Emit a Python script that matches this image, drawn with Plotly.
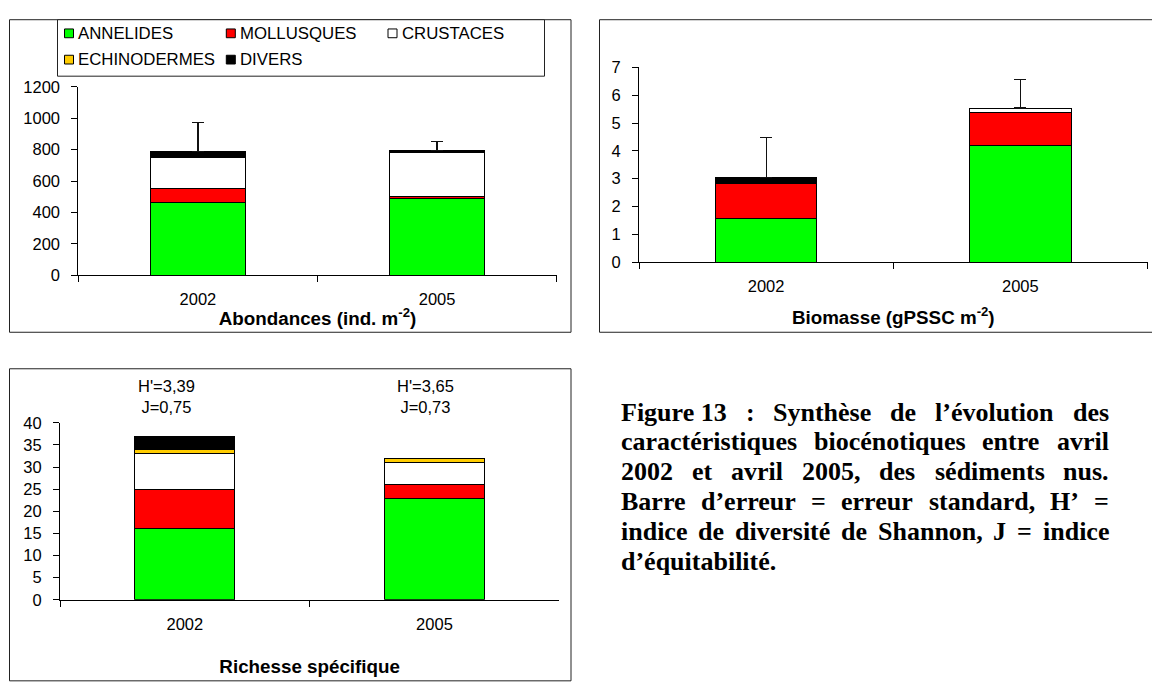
import plotly.graph_objects as go

W, H = 1152, 684

# ---------------- data ----------------
categories = ["2002", "2005"]
groups = ["ANNELIDES", "MOLLUSQUES", "CRUSTACES", "ECHINODERMES", "DIVERS"]
group_colors = ["#00FF00", "#FF0000", "#FFFFFF", "#FFCC00", "#000000"]

# Abondances (ind. m-2)
abond_annelides = [462, 490]
abond_mollusques = [91, 10]
abond_crustaces = [194, 283]
abond_echinodermes = [2, 2]
abond_divers = [41, 7]
abond_se = [181, 62]

# Biomasse (gPSSC m-2)
biom_annelides = [1.56, 4.21]
biom_mollusques = [1.27, 1.17]
biom_crustaces = [0.05, 0.16]
biom_echinodermes = [0.01, 0.0]
biom_divers = [0.14, 0.0]
biom_se = [1.46, 1.02]

# Richesse spécifique
rich_annelides = [16, 23]
rich_mollusques = [9, 3]
rich_crustaces = [8, 5]
rich_echinodermes = [1, 1]
rich_divers = [3, 0]

diversity_h = ["3,39", "3,65"]
equitability_j = ["0,75", "0,73"]

titles = ["Abondances (ind. m<sup>-2</sup>)", "Biomasse (gPSSC m<sup>-2</sup>)", "Richesse spécifique"]

caption_lines = [
    "Figure\u00a013 : Synthèse de l’évolution des",
    "caractéristiques biocénotiques entre avril",
    "2002 et avril 2005, des sédiments nus.",
    "Barre d’erreur = erreur standard, H’ =",
    "indice de diversité de Shannon, J = indice",
    "d’équitabilité.",
]

# ---------------- helpers ----------------
def px(x):
    return x / W


def py(y):
    return 1 - y / H


SANS = "Liberation Sans"
SERIF = "Liberation Serif"
FS = 16.5

fig = go.Figure()

charts = [
    ("x", "y", [abond_annelides, abond_mollusques, abond_crustaces, abond_echinodermes, abond_divers], abond_se),
    ("x2", "y2", [biom_annelides, biom_mollusques, biom_crustaces, biom_echinodermes, biom_divers], biom_se),
    ("x3", "y3", [rich_annelides, rich_mollusques, rich_crustaces, rich_echinodermes, rich_divers], None),
]

for xa, ya, series, se in charts:
    for g, vals in enumerate(series):
        kw = {}
        if se is not None and g == len(series) - 1:
            kw["error_y"] = dict(type="data", symmetric=False, array=se, arrayminus=[0] * len(se),
                                 color="#111111", thickness=1.2, width=6)
        fig.add_trace(go.Bar(
            x=categories, y=vals, name=groups[g], xaxis=xa, yaxis=ya,
            marker=dict(color=group_colors[g], line=dict(color="#000000", width=1)),
            showlegend=False, **kw))

tickfont = dict(family=SANS, size=FS, color="#000000")
titlefont = dict(family=SANS, size=18.8, color="#000000", weight="bold")


def xaxis(domain, anchor, title, standoff):
    return dict(domain=domain, anchor=anchor, type="category", range=[-0.5, len(categories) - 0.5],
                showline=True, linecolor="#000000",
                linewidth=1, ticks="outside", tickson="boundaries", ticklen=6, tickcolor="#000000",
                tickwidth=1, tickfont=tickfont, showgrid=False, zeroline=False, fixedrange=True,
                ticklabelstandoff=9, tickangle=0,
                title=dict(text=title, font=titlefont, standoff=standoff))


def yaxis(domain, anchor, rng, dtick):
    return dict(domain=domain, anchor=anchor, range=rng, dtick=dtick, showline=True, linecolor="#000000",
                linewidth=1, ticks="outside", ticklen=6, tickcolor="#000000", tickwidth=1,
                tickfont=tickfont, showgrid=False, zeroline=False, fixedrange=True, ticklabelstandoff=8)


fig.update_layout(
    width=W, height=H, margin=dict(l=0, r=0, t=0, b=0, pad=0),
    paper_bgcolor="#FFFFFF", plot_bgcolor="rgba(0,0,0,0)",
    barmode="stack", bargap=0.6, showlegend=False,
    font=dict(family=SANS, size=FS, color="#000000"),
    xaxis=xaxis([px(78.3), px(556.7)], "y", titles[0], 4.5),
    yaxis=yaxis([py(273.3), py(80)], "x", [0, 1200], 200),
    xaxis2=xaxis([px(639), px(1147.5)], "y2", titles[1], 16.5),
    yaxis2=yaxis([py(260), py(60)], "x2", [0, 7], 1),
    xaxis3=xaxis([px(60), px(559.3)], "y3", titles[2], 27.5),
    yaxis3=yaxis([py(606.7), py(425)], "x3", [0, 40], 5),
)

shapes = []
border = dict(color="#222222", width=1)
# panel frames
shapes.append(dict(type="rect", xref="paper", yref="paper", x0=px(9.5), x1=px(571), y0=py(11), y1=py(332),
                   line=border, fillcolor="rgba(0,0,0,0)", layer="below"))
shapes.append(dict(type="rect", xref="paper", yref="paper", x0=px(599.5), x1=px(1154), y0=py(11), y1=py(332),
                   line=border, fillcolor="rgba(0,0,0,0)", layer="below"))
shapes.append(dict(type="rect", xref="paper", yref="paper", x0=px(9.5), x1=px(571), y0=py(369.5), y1=py(690),
                   line=border, fillcolor="rgba(0,0,0,0)", layer="below"))
# legend frame
shapes.append(dict(type="rect", xref="paper", yref="paper", x0=px(57.5), x1=px(544.5), y0=py(11), y1=py(69),
                   line=border, fillcolor="#FFFFFF", layer="below"))

annotations = []
# legend entries (3 columns, 2 rows)
col_x = [64.5, 226.3, 388.0]
row_y = [25.0, 52.0]
for g, name in enumerate(groups):
    cx = col_x[g % 3]
    cy = row_y[g // 3]
    shapes.append(dict(type="rect", xref="paper", yref="paper", x0=px(cx), x1=px(cx + 9), y0=py(cy + 4.5),
                       y1=py(cy - 4.5), line=dict(color="#000000", width=1), fillcolor=group_colors[g]))
    annotations.append(dict(xref="paper", yref="paper", x=px(cx + 13.5), y=py(cy), xanchor="left",
                            yanchor="middle", text=name, showarrow=False, borderpad=0, borderwidth=0,
                            font=dict(family=SANS, size=16.8, color="#000000")))

# diversity indices above richness bars (category axis: index positions)
shifts = [-18, -8.5]
for i, cat in enumerate(categories):
    annotations.append(dict(xref="x3", yref="paper", x=i, xshift=shifts[i], y=py(398), yanchor="middle",
                            xanchor="center", showarrow=False, borderpad=0, borderwidth=0,
                            text="H'=" + diversity_h[i] + "<br>J=" + equitability_j[i],
                            font=dict(family=SANS, size=FS, color="#000000")))

# justified caption (Times-Bold metrics, per-mille of em)
TB = {' ': 250, '\u00a0': 250, 'F': 611, 'i': 278, 'g': 500, 'u': 556, 'r': 444, 'e': 444, '1': 500, '3': 500,
      '2': 500, '0': 500, '5': 500, ':': 333, 'S': 556, 'y': 500, 'n': 556, 't': 333, 'h': 556, 'è': 444,
      'é': 444, 's': 389, 'd': 556, 'l': 278, '’': 333, 'v': 500, 'o': 500, 'c': 444, 'a': 500, 'q': 556,
      'b': 556, ',': 250, 'm': 833, '.': 250, 'B': 667, '=': 570, 'H': 778, 'J': 500}
CFS = 26
CAP_L, CAP_R = 620.5, 1109.0
line_y = [414.0, 444.7, 475.3, 506.0, 536.7, 567.4]


def wwidth(w):
    return sum(TB.get(ch, 500) for ch in w) * CFS / 1000.0


for li, line in enumerate(caption_lines):
    words = line.split(" ")
    cfont = dict(family=SERIF, size=CFS, color="#000000", weight="bold")
    last = li == len(caption_lines) - 1
    if last or len(words) == 1:
        annotations.append(dict(xref="paper", yref="paper", x=px(CAP_L), y=py(line_y[li]), xanchor="left",
                                yanchor="middle", text=line.replace("\u00a0", " "), showarrow=False,
                                borderpad=0, borderwidth=0, font=cfont))
        continue
    widths = [wwidth(w) for w in words]
    gap = (CAP_R - CAP_L - sum(widths)) / (len(words) - 1)
    xpos = CAP_L
    for wi, w in enumerate(words):
        if wi == len(words) - 1:
            annotations.append(dict(xref="paper", yref="paper", x=px(CAP_R), y=py(line_y[li]), xanchor="right",
                                    yanchor="middle", text=w, showarrow=False, borderpad=0, borderwidth=0,
                                    font=cfont))
        else:
            annotations.append(dict(xref="paper", yref="paper", x=px(xpos), y=py(line_y[li]), xanchor="left",
                                    yanchor="middle", text=w.replace("\u00a0", " "), showarrow=False,
                                    borderpad=0, borderwidth=0, font=cfont))
        xpos += widths[wi] + gap

fig.update_layout(shapes=shapes, annotations=annotations)

fig.write_html("out.html", config={"displayModeBar": False},
               post_script="document.body.style.margin='0';document.body.style.padding='0';"
                           "document.documentElement.style.overflow='hidden';")
